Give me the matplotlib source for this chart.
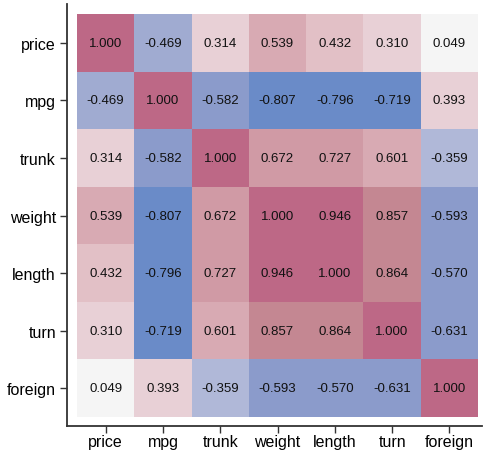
import matplotlib
matplotlib.use("Agg")
import matplotlib.pyplot as plt
import numpy as np
from matplotlib.colors import ListedColormap, BoundaryNorm

# Premenné a korelačná matica
premenne = ['price', 'mpg', 'trunk', 'weight', 'length', 'turn', 'foreign']

r_price = [1.000, -0.469, 0.314, 0.539, 0.432, 0.310, 0.049]
r_mpg = [-0.469, 1.000, -0.582, -0.807, -0.796, -0.719, 0.393]
r_trunk = [0.314, -0.582, 1.000, 0.672, 0.727, 0.601, -0.359]
r_weight = [0.539, -0.807, 0.672, 1.000, 0.946, 0.857, -0.593]
r_length = [0.432, -0.796, 0.727, 0.946, 1.000, 0.864, -0.570]
r_turn = [0.310, -0.719, 0.601, 0.857, 0.864, 1.000, -0.631]
r_foreign = [0.049, 0.393, -0.359, -0.593, -0.570, -0.631, 1.000]

matica = np.array([r_price, r_mpg, r_trunk, r_weight, r_length, r_turn, r_foreign])

# Farby po intervaloch (odčítané z obrázka)
hranice = [-1.0, -0.7, -0.5, -0.4, -0.2, 0.2, 0.4, 0.5, 0.65, 0.8, 0.9, 1.01]
farby = ['#6a8bc8', '#8b9bcb', '#a0abd1', '#b0b8d8', '#f5f5f5', '#e8d0d6',
         '#e2c0c6', '#d8aab3', '#d09aa5', '#c48792', '#bd6886']
cmap = ListedColormap(farby)
norm = BoundaryNorm(hranice, cmap.N)

plt.rcParams['font.family'] = ['Liberation Sans', 'DejaVu Sans']

fig = plt.figure(figsize=(4.85, 4.52), dpi=100)
ax = fig.add_axes([67 / 485, 25 / 452, 415 / 485, 422 / 452])

n = len(premenne)
ax.pcolormesh(np.arange(n + 1) - 0.5, np.arange(n + 1) - 0.5, matica,
              cmap=cmap, norm=norm, shading='flat')

for i in range(n):
    for j in range(n):
        ax.text(j, i, f'{matica[i, j]:.3f}', ha='center', va='center',
                fontsize=9.5, color='#111111')

ax.set_xlim(-0.675, 6.57)
ax.set_ylim(6.5 + 0.156, -0.5 - 0.174)

ax.set_xticks(range(n))
ax.set_xticklabels(premenne, fontsize=11.5)
ax.set_yticks(range(n))
ax.set_yticklabels(premenne, fontsize=11.5)
ax.tick_params(direction='out', length=5, width=1, color='#333333')
ax.tick_params(axis='x', pad=1)
ax.tick_params(axis='y', pad=3)

for s in ['top', 'right']:
    ax.spines[s].set_visible(False)
for s in ['left', 'bottom']:
    ax.spines[s].set_linewidth(1.3)
    ax.spines[s].set_color('#333333')

plt.savefig('out.png', dpi=100)
